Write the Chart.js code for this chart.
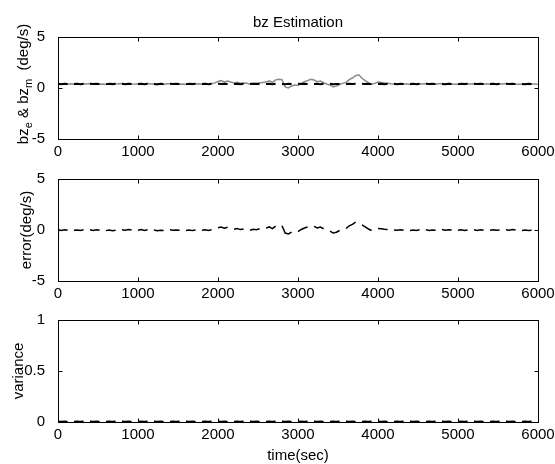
<!DOCTYPE html>
<html>
<head>
<meta charset="utf-8">
<script src="https://cdn.jsdelivr.net/npm/chart.js@4/dist/chart.umd.min.js"></script>
<style>
  html, body { margin: 0; padding: 0; background: #fff; }
  #fig { position: relative; width: 555px; height: 464px; }
  #fig canvas { position: absolute; left: 0; }
</style>
</head>
<body>
<div id="fig">
  <canvas id="c1" width="555" height="164" style="top:0"></canvas>
  <canvas id="c2" width="555" height="146" style="top:160px"></canvas>
  <canvas id="c3" width="555" height="164" style="top:300px"></canvas>
</div>
<script>
// samples are stored every 40 s, 0..6000 s (151 samples)
const sampleStep = 40;

const xTickValues = [0, 1000, 2000, 3000, 4000, 5000, 6000];
const yTickValues = [-5, 0, 5];
const varTickValues = [0, 0.5, 1];

// measured bz (grey), continuous
const bzmValues = [
  0.42, 0.36, 0.44, 0.38, 0.41,
  0.37, 0.43, 0.35, 0.42, 0.39,
  0.44, 0.37, 0.42, 0.36, 0.40,
  0.34, 0.40, 0.32, 0.38, 0.42,
  0.43, 0.37, 0.45, 0.40, 0.38,
  0.38, 0.45, 0.36, 0.43, 0.40,
  0.40, 0.33, 0.38, 0.35, 0.41,
  0.42, 0.37, 0.41, 0.38, 0.40,
  0.35, 0.40, 0.34, 0.39, 0.42,
  0.38, 0.43, 0.36, 0.42, 0.50,
  0.64, 0.72, 0.60, 0.68, 0.58,
  0.50, 0.55, 0.44, 0.50, 0.46,
  0.38, 0.48, 0.42, 0.52, 0.55,
  0.58, 0.70, 0.56, 0.80, 0.85,
  0.82, 0.10, 0.00, 0.20, 0.30,
  0.25, 0.45, 0.62, 0.72, 0.85,
  0.78, 0.62, 0.68, 0.52, 0.40,
  0.30, 0.10, 0.18, 0.35, 0.45,
  0.55, 0.82, 0.98, 1.20, 1.30,
  0.95, 0.72, 0.50, 0.36, 0.45,
  0.58, 0.55, 0.50, 0.46, 0.42,
  0.40, 0.37, 0.42, 0.38, 0.41,
  0.35, 0.40, 0.36, 0.42, 0.39,
  0.43, 0.35, 0.40, 0.37, 0.41,
  0.44, 0.38, 0.43, 0.40, 0.37,
  0.37, 0.42, 0.35, 0.41, 0.40,
  0.42, 0.36, 0.43, 0.38, 0.41,
  0.38, 0.43, 0.37, 0.41, 0.39,
  0.43, 0.38, 0.44, 0.40, 0.37,
  0.36, 0.41, 0.35, 0.38, 0.40,
  0.37
];

// estimated bz (black), short runs with gaps
const bzeValues = [
  0.41, 0.38, 0.42, 0.39, null,
  0.39, 0.42, 0.38, 0.41, null,
  0.42, 0.39, 0.41, 0.38, null,
  0.38, 0.41, 0.39, 0.42, null,
  0.41, 0.38, 0.42, 0.40, null,
  0.39, 0.42, 0.38, 0.41, null,
  0.40, 0.37, 0.41, 0.39, null,
  0.42, 0.39, 0.41, 0.38, null,
  0.38, 0.41, 0.39, 0.42, null,
  0.40, 0.42, 0.38, 0.41, null,
  0.41, 0.39, 0.42, 0.40, null,
  0.39, 0.42, 0.38, 0.41, null,
  0.42, 0.39, 0.41, 0.38, null,
  0.39, 0.41, 0.38, 0.42, null,
  0.40, 0.38, 0.41, 0.39, null,
  0.41, 0.39, 0.42, 0.40, null,
  0.39, 0.41, 0.38, 0.42, null,
  0.41, 0.38, 0.40, 0.39, null,
  0.40, 0.42, 0.39, 0.41, null,
  0.42, 0.39, 0.41, 0.38, null,
  0.39, 0.41, 0.38, 0.42, null,
  0.41, 0.38, 0.42, 0.39, null,
  0.39, 0.42, 0.38, 0.41, null,
  0.42, 0.39, 0.41, 0.38, null,
  0.40, 0.38, 0.42, 0.39, null,
  0.38, 0.41, 0.39, 0.42, null,
  0.41, 0.39, 0.42, 0.40, null,
  0.39, 0.42, 0.38, 0.41, null,
  0.42, 0.39, 0.41, 0.38, null,
  0.40, 0.38, 0.41, 0.39, null,
  0.40
];

// estimation error, short runs with gaps
const errorValues = [
  0.02, -0.04, 0.03, -0.02, null,
  -0.03, 0.01, -0.05, 0.02, null,
  0.03, -0.04, 0.02, -0.03, null,
  -0.06, 0.00, -0.08, -0.02, null,
  0.02, -0.03, 0.04, 0.00, null,
  -0.02, 0.05, -0.04, 0.03, null,
  0.00, -0.07, -0.02, -0.05, null,
  0.02, -0.03, 0.01, -0.02, null,
  -0.05, 0.00, -0.06, -0.01, null,
  -0.02, 0.03, -0.04, 0.02, null,
  0.22, 0.30, 0.18, 0.26, null,
  0.08, 0.14, 0.04, 0.10, null,
  -0.02, 0.08, 0.02, 0.12, null,
  0.18, 0.30, 0.14, 0.38, null,
  0.42, -0.30, -0.38, -0.20, null,
  -0.15, 0.05, 0.20, 0.30, null,
  0.35, 0.20, 0.28, 0.12, null,
  -0.10, -0.30, -0.22, -0.05, null,
  0.15, 0.40, 0.55, 0.78, null,
  0.50, 0.30, 0.10, -0.05, null,
  0.15, 0.12, 0.08, 0.05, null,
  0.00, -0.03, 0.02, -0.02, null,
  -0.05, 0.00, -0.04, 0.02, null,
  0.03, -0.05, 0.00, -0.03, null,
  0.04, -0.02, 0.03, 0.00, null,
  -0.03, 0.02, -0.05, 0.01, null,
  0.02, -0.04, 0.03, -0.02, null,
  -0.02, 0.03, -0.03, 0.01, null,
  0.03, -0.02, 0.04, 0.00, null,
  -0.04, 0.01, -0.05, -0.02, null,
  -0.03
];

// variance, short runs along zero
const varianceValues = [
  0.004, 0.003, 0.004, 0.003, null,
  0.003, 0.004, 0.003, 0.004, null,
  0.004, 0.003, 0.004, 0.003, null,
  0.003, 0.004, 0.003, 0.004, null,
  0.004, 0.003, 0.004, 0.003, null,
  0.003, 0.004, 0.003, 0.004, null,
  0.004, 0.003, 0.004, 0.003, null,
  0.003, 0.004, 0.003, 0.004, null,
  0.004, 0.003, 0.004, 0.003, null,
  0.003, 0.004, 0.003, 0.004, null,
  0.004, 0.003, 0.004, 0.003, null,
  0.003, 0.004, 0.003, 0.004, null,
  0.004, 0.003, 0.004, 0.003, null,
  0.003, 0.004, 0.003, 0.004, null,
  0.004, 0.003, 0.004, 0.003, null,
  0.003, 0.004, 0.003, 0.004, null,
  0.004, 0.003, 0.004, 0.003, null,
  0.003, 0.004, 0.003, 0.004, null,
  0.004, 0.003, 0.004, 0.003, null,
  0.003, 0.004, 0.003, 0.004, null,
  0.004, 0.003, 0.004, 0.003, null,
  0.003, 0.004, 0.003, 0.004, null,
  0.004, 0.003, 0.004, 0.003, null,
  0.003, 0.004, 0.003, 0.004, null,
  0.004, 0.003, 0.004, 0.003, null,
  0.003, 0.004, 0.003, 0.004, null,
  0.004, 0.003, 0.004, 0.003, null,
  0.003, 0.004, 0.003, 0.004, null,
  0.004, 0.003, 0.004, 0.003, null,
  0.003, 0.004, 0.003, 0.004, null,
  0.003
];

// start-up transient right at t = 0
const transientTimes = [0, 0, 8];
const bzmTransient = [-0.9, 0.65, 0.42];
const errorTransient = [-0.8, 0.3, 0.02];

const FONT = 'Liberation Sans, Arial, Helvetica, sans-serif';
const GREY = '#8a8a8a';

function toPoints(values) {
  return values.map((v, i) => ({ x: i * sampleStep, y: v }));
}
function toXY(times, values) {
  return times.map((t, i) => ({ x: t, y: values[i] }));
}

// MATLAB-like box with inward ticks + labels drawn on the canvas
const matlabBox = {
  id: 'matlabBox',
  afterDraw(chart, args, opts) {
    const { ctx, chartArea: a, scales: { x, y } } = chart;
    ctx.save();
    ctx.strokeStyle = '#000';
    ctx.lineWidth = 1;
    const L = Math.round(a.left) + 0.5, R = Math.round(a.right) + 0.5;
    const T = Math.round(a.top) + 0.5, B = Math.round(a.bottom) + 0.5;
    ctx.strokeRect(L, T, R - L, B - T);
    ctx.beginPath();
    x.ticks.forEach(t => {
      const px = Math.round(x.getPixelForValue(t.value)) + 0.5;
      ctx.moveTo(px, B); ctx.lineTo(px, B - 4);
      ctx.moveTo(px, T); ctx.lineTo(px, T + 4);
    });
    y.ticks.forEach(t => {
      const py = Math.round(y.getPixelForValue(t.value)) + 0.5;
      ctx.moveTo(L, py); ctx.lineTo(L + 4, py);
      ctx.moveTo(R, py); ctx.lineTo(R - 4, py);
    });
    ctx.stroke();

    ctx.fillStyle = '#000';
    // y label, rotated, with optional subscripts
    if (opts.ylabel) {
      const big = '15px ' + FONT, small = '11px ' + FONT;
      let total = 0;
      opts.ylabel.forEach(p => { ctx.font = p.sub ? small : big; total += ctx.measureText(p.text).width; });
      ctx.translate(opts.labelX, (a.top + a.bottom) / 2 + (opts.labelShift || 0) + total / 2);
      ctx.rotate(-Math.PI / 2);
      ctx.textBaseline = 'alphabetic';
      ctx.textAlign = 'left';
      let cx = 0;
      opts.ylabel.forEach(p => {
        ctx.font = p.sub ? small : big;
        ctx.fillText(p.text, cx, p.sub ? 4 : 0);
        cx += ctx.measureText(p.text).width;
      });
      ctx.setTransform(1, 0, 0, 1, 0, 0);
    }
    ctx.font = '15px ' + FONT;
    ctx.textAlign = 'center';
    ctx.textBaseline = 'alphabetic';
    const mid = (a.left + a.right) / 2;
    if (opts.title) ctx.fillText(opts.title, mid, opts.titleY);
    if (opts.xTitle) ctx.fillText(opts.xTitle, mid, opts.xTitleY);
    ctx.restore();
  }
};

const plainNumber = v => String(v);

function panel(id, spec) {
  return new Chart(document.getElementById(id), {
    type: 'line',
    data: { datasets: spec.datasets },
    options: {
      responsive: false,
      animation: false,
      spanGaps: false,
      layout: { padding: { top: spec.padTop, right: 17, bottom: 0, left: 0 } },
      elements: { point: { radius: 0 }, line: { tension: 0 } },
      plugins: {
        legend: { display: false },
        tooltip: { enabled: false },
        matlabBox: spec.box
      },
      scales: {
        x: {
          type: 'linear', min: 0, max: 6000,
          afterBuildTicks: s => { s.ticks = xTickValues.map(v => ({ value: v })); },
          afterFit: s => { s.height = spec.xHeight; },
          grid: { display: false }, border: { display: false },
          ticks: { color: '#000', font: { family: FONT, size: 15, lineHeight: 1 }, padding: -3,
                   maxRotation: 0, autoSkip: false, callback: plainNumber }
        },
        y: {
          min: spec.yTicks[0], max: spec.yTicks[spec.yTicks.length - 1],
          afterBuildTicks: s => { s.ticks = spec.yTicks.map(v => ({ value: v })); },
          afterFit: s => { s.width = 58; },
          grid: { display: false }, border: { display: false },
          ticks: { color: '#000', font: { family: FONT, size: 15 }, padding: 5, callback: plainNumber }
        }
      }
    },
    plugins: [matlabBox]
  });
}

panel('c1', {
  padTop: 37, xHeight: 25, yTicks: yTickValues,
  box: {
    title: 'bz Estimation', titleY: 27, labelX: 28, labelShift: -4,
    ylabel: [{ text: 'bz' }, { text: 'e', sub: true }, { text: ' & bz' }, { text: 'm', sub: true }, { text: '  (deg/s)' }]
  },
  datasets: [
    { data: toPoints(bzeValues), borderColor: '#000', borderWidth: 2, order: 0 },
    { data: toPoints(bzmValues), borderColor: GREY, borderWidth: 1.5, order: 1 },
    { data: toXY(transientTimes, bzmTransient), borderColor: GREY, borderWidth: 1.5, order: 1 }
  ]
});

panel('c2', {
  padTop: 19, xHeight: 25, yTicks: yTickValues,
  box: { labelX: 31, ylabel: [{ text: 'error(deg/s)' }] },
  datasets: [
    { data: toPoints(errorValues), borderColor: '#000', borderWidth: 1.5 },
    { data: toXY(transientTimes, errorTransient), borderColor: '#000', borderWidth: 1.5 }
  ]
});

panel('c3', {
  padTop: 20, xHeight: 42, yTicks: varTickValues,
  box: { labelX: 23, ylabel: [{ text: 'variance' }], xTitle: 'time(sec)', xTitleY: 160 },
  datasets: [
    { data: toPoints(varianceValues), borderColor: '#000', borderWidth: 2 }
  ]
});
</script>
</body>
</html>
